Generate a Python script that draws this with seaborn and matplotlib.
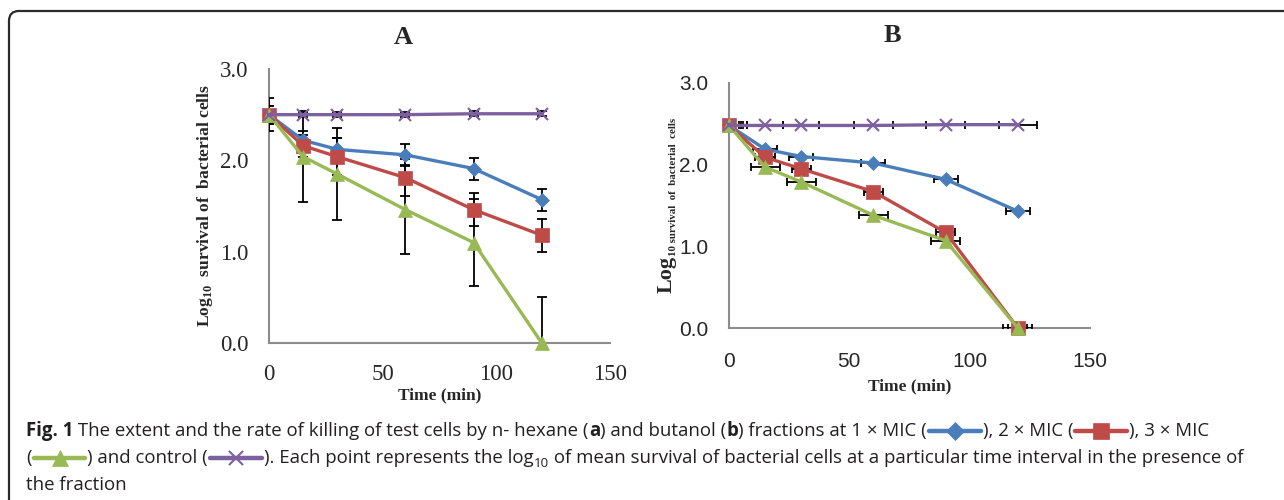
import matplotlib
matplotlib.use("Agg")
import matplotlib.pyplot as plt
import seaborn as sns
import pandas as pd
from matplotlib.lines import Line2D
from matplotlib.patches import FancyBboxPatch
from matplotlib.transforms import IdentityTransform

# time points (min)
times = [0, 15, 30, 60, 90, 120]

# panel A (n-hexane), log10 survival
a_mic1 = [2.50, 2.22, 2.12, 2.06, 1.91, 1.57]
a_mic2 = [2.50, 2.16, 2.04, 1.81, 1.46, 1.18]
a_mic3 = [2.50, 2.04, 1.85, 1.46, 1.10, 0.00]
a_ctrl = [2.50, 2.50, 2.50, 2.50, 2.51, 2.51]
a_err_mic1 = [0.10, 0.10, 0.12, 0.12, 0.12, 0.12]
a_err_mic2 = [0.10, 0.12, 0.20, 0.20, 0.18, 0.18]
a_err_mic3 = [0.18, 0.50, 0.50, 0.49, 0.48, 0.50]
a_err_ctrl = [0.03, 0.03, 0.03, 0.03, 0.03, 0.03]

# panel B (butanol), log10 survival, horizontal error in min
b_mic1 = [2.48, 2.19, 2.10, 2.02, 1.82, 1.43]
b_mic2 = [2.48, 2.09, 1.95, 1.67, 1.17, 0.00]
b_mic3 = [2.48, 1.97, 1.79, 1.38, 1.07, 0.00]
b_ctrl = [2.48, 2.48, 2.48, 2.48, 2.49, 2.49]
b_xerr_mic1 = [4, 5, 5, 5, 5, 5]
b_xerr_mic2 = [6, 4, 4, 4, 4, 4]
b_xerr_mic3 = [5, 6, 6, 6, 6, 6]
b_xerr_ctrl = [7.5, 7.5, 7.5, 8, 8, 8]

series = ["1 x MIC", "2 x MIC", "3 x MIC", "control"]
colors = {"1 x MIC": "#4a7ebb", "2 x MIC": "#be4b48", "3 x MIC": "#98b954", "control": "#7d60a0"}
markers = {"1 x MIC": "D", "2 x MIC": "s", "3 x MIC": "^", "control": "x"}
msizes = {"1 x MIC": 7, "2 x MIC": 9.5, "3 x MIC": 9.5, "control": 8}

sns.set_style("white")
plt.rcParams['mathtext.fontset'] = 'custom'
plt.rcParams['mathtext.rm'] = 'Liberation Serif'
plt.rcParams['mathtext.bf'] = 'Liberation Serif:bold'

W, H = 1284, 500
fig = plt.figure(figsize=(W / 100, H / 100), dpi=100)


def px_axes(left, top, right, bottom):
    return fig.add_axes([left / W, 1 - bottom / H, (right - left) / W, (bottom - top) / H])


def make_df(vals):
    rows = []
    for name, v in zip(series, vals):
        for t, y in zip(times, v):
            rows.append({"time": t, "value": y, "series": name})
    return pd.DataFrame(rows)


def draw_lines(ax, df):
    for name in series:
        sub = df[df["series"] == name]
        sns.lineplot(data=sub, x="time", y="value", color=colors[name], marker=markers[name],
                     markersize=msizes[name], markeredgecolor=colors[name],
                     markeredgewidth=1.5 if name == "control" else 0.5,
                     linewidth=2.4, ax=ax, legend=False, zorder=4)
    for ln in ax.lines:
        ln.set_clip_on(False)


def style_axes(ax, tick_font, tick_size, xpad, ypad):
    ax.set_xlim(0, 150)
    ax.set_ylim(0, 3)
    ax.set_xticks([0, 50, 100, 150])
    ax.set_yticks([0, 1, 2, 3])
    ax.set_yticklabels([f"{v:.1f}" for v in [0, 1, 2, 3]])
    ax.set_xlabel("")
    ax.set_ylabel("")
    sns.despine(ax=ax)
    for s in ["left", "bottom"]:
        ax.spines[s].set_color("#8c8c8c")
        ax.spines[s].set_linewidth(1.5)
    ax.tick_params(axis="x", length=0, pad=xpad)
    ax.tick_params(axis="y", length=0, pad=ypad)
    for lab in ax.get_xticklabels() + ax.get_yticklabels():
        lab.set_fontfamily(tick_font)
        lab.set_fontsize(tick_size)
    ax.set_facecolor("none")


# ---- panel A ----
axA = px_axes(269, 69, 610, 343)
dfA = make_df([a_mic1, a_mic2, a_mic3, a_ctrl])
draw_lines(axA, dfA)
for v, e in zip([a_mic1, a_mic2, a_mic3, a_ctrl], [a_err_mic1, a_err_mic2, a_err_mic3, a_err_ctrl]):
    axA.errorbar(times, v, yerr=e, fmt="none", ecolor="black", elinewidth=1.3,
                 capsize=3.6, capthick=1.3, zorder=3)
style_axes(axA, "Liberation Serif", 16.5, 15, 15)
axA.set_xlabel("Time (min)", fontfamily="Liberation Serif", fontweight="bold", fontsize=12.5)
axA.xaxis.set_label_coords(0.5, -0.19)
axA.xaxis.label.set_va("center")
axA.set_ylabel(r"Log$_{\mathbf{10}}$  survival of  bacterial cells", fontfamily="Liberation Serif",
               fontweight="bold", fontsize=12.6)
axA.yaxis.set_label_coords(-0.188, 0.5)
axA.yaxis.label.set_va("center")
fig.text(403 / W, 1 - 37 / H, "A", ha="center", va="center", fontfamily="Liberation Serif",
         fontweight="bold", fontsize=19)

# ---- panel B ----
axB = px_axes(729, 83, 1090, 328)
dfB = make_df([b_mic1, b_mic2, b_mic3, b_ctrl])
draw_lines(axB, dfB)
for v, e in zip([b_mic1, b_mic2, b_mic3, b_ctrl], [b_xerr_mic1, b_xerr_mic2, b_xerr_mic3, b_xerr_ctrl]):
    axB.errorbar(times, v, xerr=e, fmt="none", ecolor="black", elinewidth=1.3,
                 capsize=3, capthick=1.3, zorder=3)
style_axes(axB, "Liberation Sans", 15, 17, 15)
axB.set_xlabel("Time (min)", fontfamily="Liberation Serif", fontweight="bold", fontsize=12.5)
axB.xaxis.set_label_coords(0.5, -0.24)
axB.xaxis.label.set_va("center")
# y label: large "Log" followed by small subscript-like text
fig.text(672 / W, 1 - 293 / H, "Log", rotation=90, rotation_mode="anchor", ha="left", va="baseline",
         fontfamily="Liberation Serif", fontweight="bold", fontsize=16)
fig.text(676 / W, 1 - 256 / H, "10 survival  of  bacterial  cells", rotation=90, rotation_mode="anchor",
         ha="left", va="baseline", fontfamily="Liberation Serif", fontweight="bold", fontsize=7.8)
fig.text(892 / W, 1 - 36 / H, "B", ha="center", va="center", fontfamily="Liberation Serif",
         fontweight="bold", fontsize=19)

# ---- frame ----
frame = FancyBboxPatch((9, -20), 1300, 500 - 11 + 20, boxstyle="round,pad=0,rounding_size=10",
                       transform=IdentityTransform(), facecolor="none", edgecolor="#2b2b2b",
                       linewidth=1.6)
fig.add_artist(frame)

# ---- caption ----
renderer = fig.canvas.get_renderer()
CAP_FONT = "Open Sans"
CAP_SIZE = 13.45


def put(x, ybase, s, bold=False, size=CAP_SIZE, dy=0):
    t = fig.text(x / W, 1 - (ybase + dy) / H, s, ha="left", va="baseline", fontfamily=CAP_FONT,
                 fontsize=size, fontweight="bold" if bold else "normal", color="#231f20")
    bb = t.get_window_extent(renderer)
    return bb.x1


def glyph(x, ybase, name):
    ymid = 1 - (ybase - 5) / H
    x0, x1 = x + 2, x + 54
    fig.add_artist(Line2D([x0 / W, x1 / W], [ymid, ymid], color=colors[name], linewidth=3.2,
                          solid_capstyle="round"))
    fig.add_artist(Line2D([(x0 + x1) / 2 / W], [ymid], color=colors[name], marker=markers[name],
                          markersize=msizes[name] + 2, markeredgewidth=1.5 if name == "control" else 0.5,
                          markeredgecolor=colors[name]))
    return x1 + 2


y1, y2, y3 = 436, 463, 490
x = 26
x = put(x, y1, "Fig. 1", bold=True)
x = put(x, y1, " The extent and the rate of killing of test cells by n- hexane (")
x = put(x, y1, "a", bold=True)
x = put(x, y1, ") and butanol (")
x = put(x, y1, "b", bold=True)
x = put(x, y1, ") fractions at 1 \u00d7 MIC (")
x = glyph(x, y1, "1 x MIC")
x = put(x, y1, "), 2 \u00d7 MIC (")
x = glyph(x, y1, "2 x MIC")
x = put(x, y1, "), 3 \u00d7 MIC")

x = 26
x = put(x, y2, "(")
x = glyph(x, y2, "3 x MIC")
x = put(x, y2, ") and control (")
x = glyph(x, y2, "control")
x = put(x, y2, "). Each point represents the log")
x = put(x, y2, "10", size=CAP_SIZE * 0.7, dy=4)
x = put(x, y2, " of mean survival of bacterial cells at a particular time interval in the presence of")

put(26, y3, "the fraction")

fig.savefig("out.png", dpi=100)
